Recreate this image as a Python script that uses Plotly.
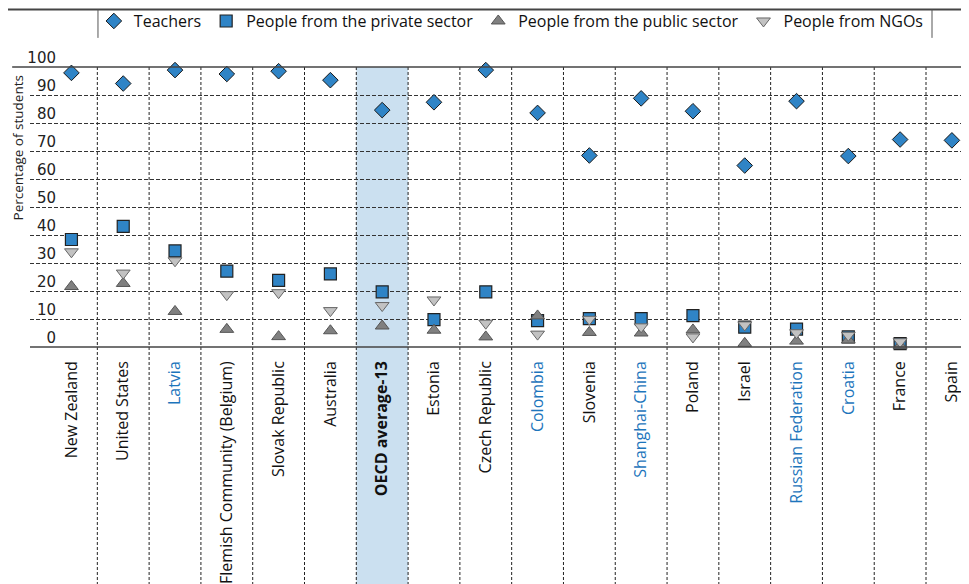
import plotly.graph_objects as go

# Countries / economies, in chart order
countries = ["New Zealand", "United States", "Latvia", "Flemish Community (Belgium)",
             "Slovak Republic", "Australia", "OECD average-13", "Estonia", "Czech Republic",
             "Colombia", "Slovenia", "Shanghai-China", "Poland", "Israel",
             "Russian Federation", "Croatia", "France", "Spain"]
partners = ["Latvia", "Colombia", "Shanghai-China", "Russian Federation", "Croatia"]

# Percentage of students whose financial education came from...
teachers = [97.9, 94.1, 98.9, 97.5, 98.5, 95.3, 84.6, 87.4, 98.9, 83.6,
            68.4, 88.8, 84.2, 64.8, 87.8, 68.2, 74.1, 73.8]
private_sector = [38.4, 43.1, 34.3, 27.1, 23.8, 26.1, 19.7, 9.8, 19.7, 9.4,
                  10.1, 10.1, 11.2, 7.1, 6.4, 3.6, 1.2, None]
public_sector = [21.6, 22.7, 12.7, 6.3, 3.7, 5.8, 7.5, 6.0, 3.6, 11.1,
                 5.2, 5.0, 6.1, 1.3, 2.1, 2.5, 0.5, None]
ngos = [34.0, 26.4, 30.8, 18.7, 19.4, 13.0, 14.8, 16.8, 8.5, 4.6,
        9.9, 7.2, 3.6, 7.9, 5.1, 4.2, 1.9, None]

y_ticks = list(range(0, 101, 10))

BLUE = "#2f84c6"
LABEL_BLUE = "#1d75bc"


def tick_label(name):
    if name == "OECD average-13":
        return "<b>" + name + "</b>"
    if name in partners:
        return "<span style='color:%s'>%s</span>" % (LABEL_BLUE, name)
    return name


xs = list(range(len(countries)))

fig = go.Figure()
fig.add_trace(go.Scatter(x=xs, y=teachers, name="Teachers", mode="markers",
                         cliponaxis=False,
                         marker=dict(symbol="diamond", size=12, color=BLUE,
                                     line=dict(color="#1a1a1a", width=1))))
fig.add_trace(go.Scatter(x=xs, y=private_sector, name="People from the private sector",
                         mode="markers", cliponaxis=False,
                         marker=dict(symbol="square", size=12, color=BLUE,
                                     line=dict(color="#222222", width=1.2))))
fig.add_trace(go.Scatter(x=xs, y=public_sector, name="People from the public sector",
                         mode="markers", cliponaxis=False,
                         marker=dict(symbol="triangle-up", size=12, color="#808080",
                                     line=dict(color="#555555", width=1))))
fig.add_trace(go.Scatter(x=xs, y=ngos, name="People from NGOs", mode="markers",
                         cliponaxis=False,
                         marker=dict(symbol="triangle-down", size=12, color="#c2c2c2",
                                     line=dict(color="#666666", width=1))))
# empty trace so the label-only y axis gets drawn
fig.add_trace(go.Scatter(x=[None], y=[None], yaxis="y2", showlegend=False,
                         hoverinfo="skip"))

shapes = []
# OECD average band
oecd = countries.index("OECD average-13")
shapes.append(dict(type="rect", xref="x", yref="paper", x0=oecd - 0.5, x1=oecd + 0.5,
                   y0=-0.85, y1=1, fillcolor="#cbe0f0", line=dict(width=0),
                   layer="below"))
# dashed separators between countries
for i in range(len(countries) - 1):
    shapes.append(dict(type="line", xref="x", yref="paper", x0=i + 0.5, x1=i + 0.5,
                       y0=-0.85, y1=1, line=dict(color="#222222", width=1, dash="3px,2px"),
                       layer="below"))
# solid lines at 100 and 0
shapes.append(dict(type="line", xref="paper", yref="paper", x0=-0.019, x1=1, y0=1, y1=1,
                   line=dict(color="#444444", width=1.5)))
shapes.append(dict(type="line", xref="paper", yref="paper", x0=0, x1=1, y0=0, y1=0,
                   line=dict(color="#444444", width=1.5)))
# legend frame
shapes.append(dict(type="line", xref="paper", yref="paper", x0=-0.03, x1=1.0, y0=1.205,
                   y1=1.205, line=dict(color="#444444", width=2)))
for xv in (0.0724, 0.9606):
    shapes.append(dict(type="line", xref="paper", yref="paper", x0=xv, x1=xv, y0=1.205,
                       y1=1.104, line=dict(color="#555555", width=1)))

# the page body adds an 8px offset, so the figure is 8px smaller than the window
fig.update_layout(
    width=961, height=576,
    margin=dict(l=22, r=0, t=59, b=237, autoexpand=False),
    plot_bgcolor="rgba(0,0,0,0)", paper_bgcolor="white",
    font=dict(family="Open Sans", size=15, color="#111111"),
    showlegend=True,
    legend=dict(orientation="h", x=0.068, xanchor="left", y=1.164, yanchor="middle",
                font=dict(family="Open Sans", size=16, color="#111111"),
                bgcolor="rgba(0,0,0,0)", itemclick=False),
    xaxis=dict(range=[-0.8, 17.33], tickmode="array", tickvals=xs,
               ticktext=[tick_label(c) for c in countries], tickangle=-90,
               showgrid=False, zeroline=False, showline=False, ticks="",
               ticklabelstandoff=10, automargin=False, ticklabeloverflow="allow",
               tickfont=dict(family="Open Sans", size=16, color="#111111")),
    yaxis=dict(range=[0, 100], tickmode="array", tickvals=y_ticks, showticklabels=False,
               showgrid=True, gridcolor="#333333", griddash="4px,2px", gridwidth=1,
               zeroline=False, showline=False, ticks="", automargin=False),
    yaxis2=dict(range=[0, 100], overlaying="y", anchor="free", position=0.0277,
                side="left", tickmode="array", tickvals=y_ticks, showgrid=False,
                zeroline=False, showline=False, ticks="", ticklabelshift=-9,
                automargin=False,
                tickfont=dict(family="DejaVu Sans", size=15, color="#222222")),
    shapes=shapes,
    annotations=[dict(text="Percentage of students", xref="paper", yref="paper",
                      x=-0.0133, y=0.711, xanchor="center", yanchor="middle",
                      textangle=-90, showarrow=False,
                      font=dict(family="Open Sans", size=13.5, color="#222222"))],
)

fig.write_html("out.html")
